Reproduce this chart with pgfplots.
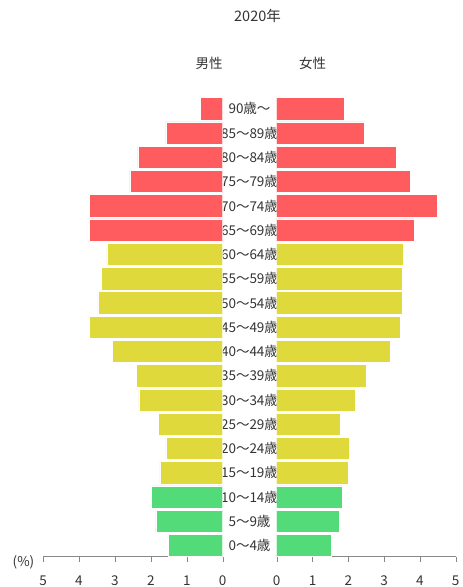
\documentclass[border=0pt]{standalone}
\usepackage{pgfplots}
\pgfplotsset{compat=1.18}
\usepackage{fontspec}
\setmainfont{Noto Sans CJK JP}
\definecolor{txt}{HTML}{333333}
\definecolor{axgray}{HTML}{888888}
\definecolor{cold}{HTML}{FF5C60}
\definecolor{cmid}{HTML}{E0D93B}
\definecolor{cyoung}{HTML}{53DA79}
\newcommand\lbl{\fontsize{13.5}{15}\selectfont}
\begin{document}
\begin{tikzpicture}
\path[use as bounding box] (0pt,0pt) rectangle (463pt,587pt);
\node[text=txt,font=\fontsize{14.5}{16}\selectfont] at (257.5pt,571pt) {2020年};
\node[text=txt,font=\lbl] at (209pt,524pt) {男性};
\node[text=txt,font=\lbl] at (312.5pt,524pt) {女性};
\node[text=txt,font=\lbl] at (23.5pt,24.3pt) {(\%)};
\foreach \lab [count=\i from 0] in {0～4歳,5～9歳,10～14歳,15～19歳,20～24歳,25～29歳,30～34歳,35～39歳,40～44歳,45～49歳,50～54歳,55～59歳,60～64歳,65～69歳,70～74歳,75～79歳,80～84歳,85～89歳,90歳～}
  \node[text=txt,font=\lbl] at (249.5pt,{(41.46+\i*24.26)*1pt}) {\lab};
\pgfplotsset{pyr/.style={
  scale only axis, height=459pt,
  anchor=south west,
  xbar, bar width=0.92, bar shift=0pt,
  xmin=0, xmax=5, ymin=-0.46, ymax=18.46,
  axis y line=none, axis x line*=bottom,
  xtick={0,1,2,3,4,5}, ytick=\empty,
  tick align=outside, major tick length=5pt,
  axis line style={axgray}, tick style={axgray},
  /pgf/number format/assume math mode=true,
  xticklabel style={font=\lbl, text=txt, anchor=center, yshift=-19pt},
  every axis plot/.append style={draw=white, line width=0.6pt},
}}
\begin{axis}[pyr, at={(43pt,30.3pt)}, width=179.7pt, x dir=reverse]
\addplot[fill=cyoung] coordinates {(1.50,0) (1.86,1) (1.99,2)};
\addplot[fill=cmid] coordinates {(1.75,3) (1.58,4) (1.79,5) (2.33,6) (2.39,7) (3.08,8) (3.70,9) (3.47,10) (3.37,11) (3.22,12)};
\addplot[fill=cold] coordinates {(3.71,13) (3.70,14) (2.58,15) (2.36,16) (1.58,17) (0.61,18)};
\end{axis}
\begin{axis}[pyr, at={(276.7pt,30.3pt)}, width=179pt]
\addplot[fill=cyoung] coordinates {(1.52,0) (1.76,1) (1.82,2)};
\addplot[fill=cmid] coordinates {(1.99,3) (2.03,4) (1.79,5) (2.20,6) (2.49,7) (3.16,8) (3.44,9) (3.51,10) (3.51,11) (3.55,12)};
\addplot[fill=cold] coordinates {(3.84,13) (4.50,14) (3.72,15) (3.35,16) (2.45,17) (1.89,18)};
\end{axis}
\end{tikzpicture}
\end{document}
